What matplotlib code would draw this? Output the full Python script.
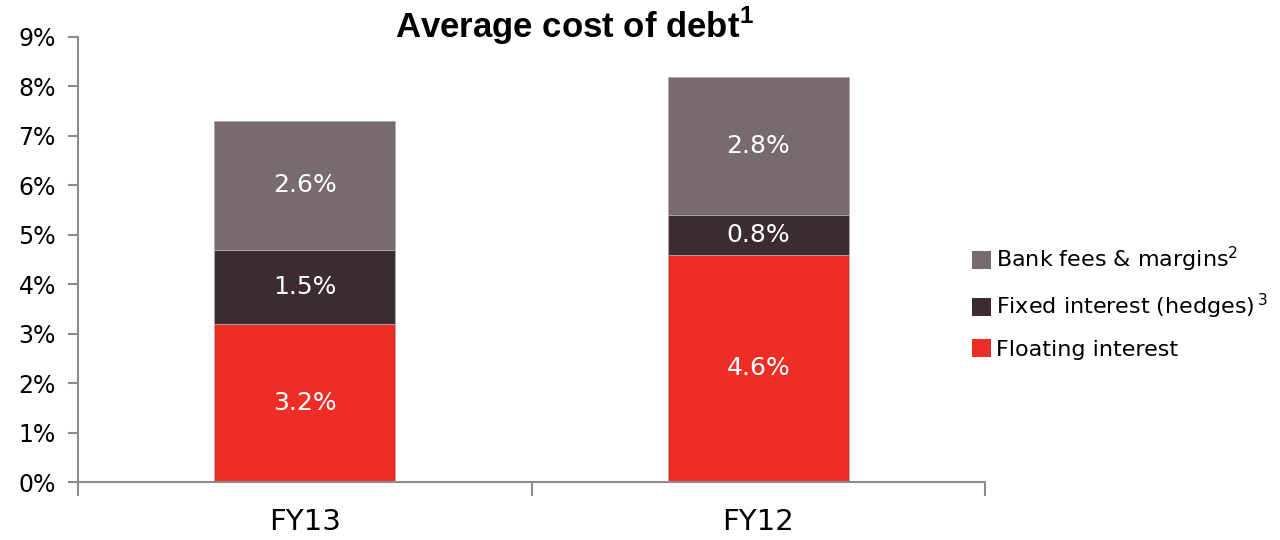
import numpy as np
import matplotlib.pyplot as plt
from matplotlib.patches import Patch

# average cost of debt, % split by component
years = ["FY13", "FY12"]
floating = [3.2, 4.6]
fixed = [1.5, 0.8]
bank_fees = [2.6, 2.8]

series_names = ["Floating interest", r"Fixed interest (hedges)$^{\,3}$", r"Bank fees & margins$^2$"]
series_colors = ["#EE2E26", "#3D2B33", "#776B6F"]
yticks = [0, 1, 2, 3, 4, 5, 6, 7, 8, 9]

plt.rcParams['font.family'] = ['DejaVu Sans']
plt.rcParams['mathtext.fontset'] = 'custom'
plt.rcParams['mathtext.rm'] = 'DejaVu Sans'
plt.rcParams['mathtext.it'] = 'DejaVu Sans'
plt.rcParams['mathtext.bf'] = 'Liberation Sans:bold'

fig = plt.figure(figsize=(12.8, 5.4), dpi=100)
ax = fig.add_axes([0.061, 0.1074, 0.7085, 0.8241])

x = np.arange(len(years))
bottom = np.zeros(len(years))
for vals, name, col in zip([floating, fixed, bank_fees], series_names, series_colors):
    ax.bar(x, vals, width=0.4, bottom=bottom, color=col, label=name,
           edgecolor="#B0A8AA", linewidth=0.6)
    for xi, b, v in zip(x, bottom, vals):
        ax.text(xi, b + v / 2, "%.1f%%" % v, ha="center", va="center",
                color="white", fontsize=18)
    bottom += np.array(vals)

ax.set_xlim(-0.5, len(years) - 0.5)
ax.set_ylim(0, 9)
ax.set_yticks(yticks)
ax.set_yticklabels(["%d%%" % t for t in yticks], fontsize=17)

# category labels centred, tick marks between categories
ax.set_xticks(np.arange(len(years) + 1) - 0.5)
ax.set_xticklabels([])
ax.set_xticks(x, minor=True)
ax.set_xticklabels(years, minor=True, fontsize=21)
ax.tick_params(axis="x", which="minor", length=0, pad=19)
ax.tick_params(axis="x", which="major", length=10, width=1.5, color="#8C8C8C")
ax.tick_params(axis="y", length=7, width=1.5, color="#8C8C8C", pad=9)

for side in ["top", "right"]:
    ax.spines[side].set_visible(False)
for side in ["left", "bottom"]:
    ax.spines[side].set_color("#8C8C8C")
    ax.spines[side].set_linewidth(1.5)

fig.text(0.449, 0.952, r"Average cost of debt$^\mathbf{1}$", ha="center", va="center",
         fontsize=25, fontweight="bold", family="Liberation Sans")

handles = [Patch(facecolor=c) for c in series_colors[::-1]]
fig.legend(handles, series_names[::-1], loc="center left",
           bbox_to_anchor=(0.744, 0.44), frameon=False, fontsize=16,
           handlelength=0.85, handleheight=0.85, handletextpad=0.2,
           labelspacing=0.8)

fig.savefig("out.png", dpi=100)
